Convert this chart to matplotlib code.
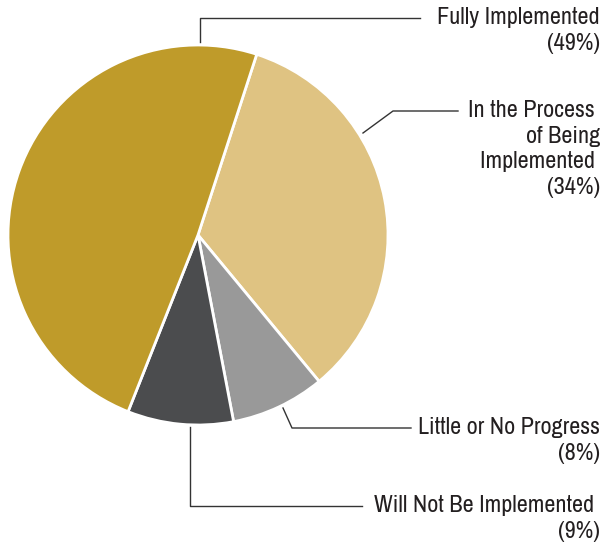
import matplotlib
matplotlib.use("Agg")
import matplotlib.pyplot as plt
from matplotlib import font_manager
import numpy as np

labels = ["In the Process \nof Being\nImplemented \n(34%)",
          "Little or No Progress\n(8%)",
          "Will Not Be Implemented \n(9%)",
          "Fully Implemented\n(49%)"]
values = [34, 8, 9, 49]
colors = ["#DFC382", "#999999", "#4B4C4E", "#BF9B2A"]

# look for a narrow face, otherwise Liberation Sans
names = sorted({f.name for f in font_manager.fontManager.ttflist})
narrow = [n for n in names if "Narrow" in n or "Condensed" in n]
if narrow:
    font = [narrow[0], "DejaVu Sans"]
    fsize = 17.4
    lsp = 1.27
else:
    font = ["Liberation Sans", "DejaVu Sans"]
    fsize = 14.5
    lsp = 1.3

W, H = 603, 544
fig = plt.figure(figsize=(W / 100, H / 100), dpi=100)
ax = fig.add_axes([0, 0, 1, 1])

cx, cy, r = 198, H - 235, 190
ax.pie(values, colors=colors, startangle=72, counterclock=False,
       center=(cx, cy), radius=r,
       wedgeprops=dict(edgecolor="white", linewidth=2))
ax.set_xlim(0, W)
ax.set_ylim(0, H)
ax.set_aspect("equal")
ax.axis("off")

# leader lines (pixel coords, y from top)
leaders = [
    [(363, 133), (393, 111), (458, 111)],
    [(283, 408), (292, 428), (411, 428)],
    [(190, 427), (190, 506), (362, 506)],
    [(200, 42), (200, 18), (420, 18)],
]
text_y = [111, 428, 506, 18]
for pts, lab, ty in zip(leaders, labels, text_y):
    xs = [p[0] for p in pts]
    ys = [H - p[1] for p in pts]
    ax.plot(xs, ys, color="#333333", lw=1)
    ax.text(600, H - ty + 11, lab, ha="right", va="top", fontsize=fsize,
            family=font, fontweight="light", color="#231F20",
            multialignment="right", linespacing=lsp)

fig.savefig("out.png", dpi=100)
